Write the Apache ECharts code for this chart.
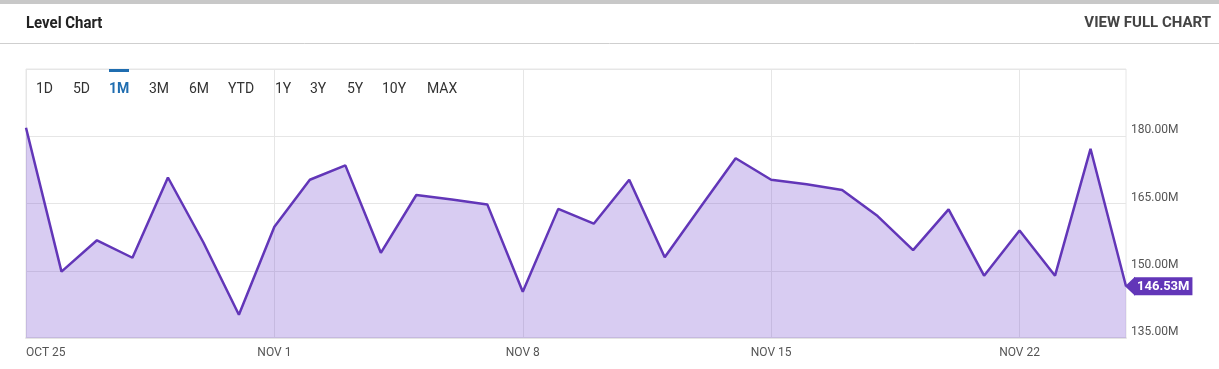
<!DOCTYPE html>
<html>
<head>
<meta charset="utf-8">
<script src="https://cdn.jsdelivr.net/npm/echarts@6/dist/echarts.min.js"></script>
<style>
  html, body { margin: 0; padding: 0; background: #fff; }
  #chart { width: 1219px; height: 369px; }
</style>
</head>
<body>
<div id="chart"></div>
<script>
// ---- Data ----
const dates = ['Oct 25','Oct 26','Oct 27','Oct 28','Oct 29','Oct 30','Oct 31',
  'Nov 1','Nov 2','Nov 3','Nov 4','Nov 5','Nov 6','Nov 7',
  'Nov 8','Nov 9','Nov 10','Nov 11','Nov 12','Nov 13','Nov 14',
  'Nov 15','Nov 16','Nov 17','Nov 18','Nov 19','Nov 20','Nov 21',
  'Nov 22','Nov 23','Nov 24','Nov 25'];
const levels = [181.9,149.8,156.8,152.9,170.8,156.3,140.2,
  159.8,170.3,173.5,154.0,166.9,165.9,164.8,
  145.3,163.8,160.5,170.3,153.0,164.1,175.1,
  170.3,169.3,168.0,162.2,154.6,163.7,148.9,
  159.0,148.9,177.2,146.53];
const yMin = 135, yMax = 195, yStep = 15;
const rangeButtons = ['1D','5D','1M','3M','6M','YTD','1Y','3Y','5Y','10Y','MAX'];
const activeRange = '1M';
const titleText = 'Level Chart';
const linkText = 'VIEW FULL CHART';

// ---- Layout (not data) ----
const buttonX = [36, 73, 109, 149, 189, 228, 275, 310, 347, 382, 427];
const FONT = 'Roboto, "Noto Sans", sans-serif';
const purple = '#6236b8';

const chart = echarts.init(document.getElementById('chart'), null, { renderer: 'canvas' });

const graphics = [
  { type: 'rect', shape: { x: 0, y: 0, width: 1219, height: 4 }, style: { fill: '#c8c8c8' }, silent: true },
  { type: 'text', x: 26, y: 24, scaleX: 0.88, originX: 0,
    style: { text: titleText, font: 'bold 17px ' + FONT, fill: '#222', verticalAlign: 'middle' } },
  { type: 'text', x: 1211, y: 23,
    style: { text: linkText, font: 'bold 15px ' + FONT, fill: '#444', align: 'right', verticalAlign: 'middle' } },
  { type: 'line', shape: { x1: 0, y1: 43.5, x2: 1219, y2: 43.5 }, style: { stroke: '#cfcfcf', lineWidth: 1 }, silent: true }
];
rangeButtons.forEach((b, i) => {
  const active = b === activeRange;
  graphics.push({
    type: 'text', x: buttonX[i], y: 89,
    style: { text: b, font: (active ? 'bold ' : '') + '14px ' + FONT, fill: active ? '#1f6db0' : '#333', verticalAlign: 'middle' },
    z: 10
  });
  if (active) {
    graphics.push({ type: 'rect', shape: { x: buttonX[i], y: 69, width: 20, height: 3 }, style: { fill: '#1f6db0' }, z: 10 });
  }
});

const weekly = (i) => i % 7 === 0;

chart.setOption({
  animation: false,
  grid: { left: 26, right: 93, top: 69, bottom: 31, show: true, borderColor: '#e6e6e6', borderWidth: 1, backgroundColor: 'transparent' },
  xAxis: {
    type: 'category',
    data: dates,
    boundaryGap: false,
    axisLine: { show: true, lineStyle: { color: '#e4e4e4', width: 2 } },
    axisTick: { show: false },
    axisLabel: {
      interval: weekly,
      formatter: (v) => v.toUpperCase(),
      color: '#555', fontSize: 12, fontFamily: FONT, margin: 9,
      alignMinLabel: 'left'
    },
    splitLine: { show: true, interval: weekly, lineStyle: { color: '#e6e6e6', width: 1 } }
  },
  yAxis: {
    type: 'value',
    position: 'right',
    min: yMin, max: yMax, interval: yStep,
    axisLine: { show: false },
    axisTick: { show: false },
    axisLabel: {
      formatter: (v) => v === yMax ? '' : v.toFixed(2) + 'M',
      color: '#555', fontSize: 12, fontFamily: FONT, margin: 5,
      verticalAlign: 'bottom'
    },
    splitLine: { show: true, lineStyle: { color: '#e6e6e6', width: 1 } }
  },
  series: [{
    type: 'line',
    data: levels,
    symbol: 'none',
    lineStyle: { color: purple, width: 2.5 },
    areaStyle: { color: 'rgba(125,85,212,0.3)', opacity: 1 },
    endLabel: {
      show: true,
      formatter: (p) => p.value.toFixed(2) + 'M',
      backgroundColor: purple,
      color: '#fff',
      fontWeight: 'bold',
      fontSize: 13,
      fontFamily: FONT,
      padding: [3, 3, 2, 3],
      distance: 8
    },
    markPoint: {
      silent: true,
      symbol: 'triangle',
      symbolRotate: 90,
      symbolSize: [19, 10],
      symbolOffset: [4, 0],
      itemStyle: { color: purple },
      label: { show: false },
      data: [{ coord: [dates.length - 1, levels[levels.length - 1]] }]
    }
  }],
  graphic: graphics
});
</script>
</body>
</html>
